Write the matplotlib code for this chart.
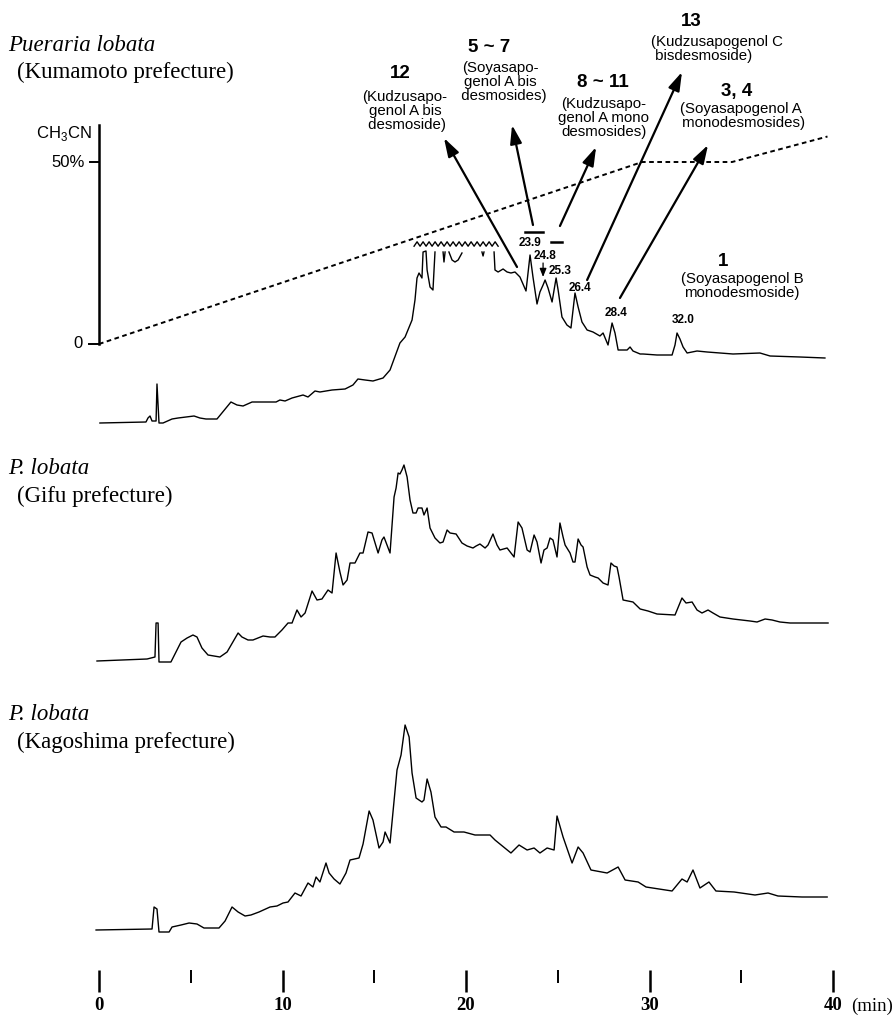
import numpy as np
import matplotlib.pyplot as plt

plt.rcParams['font.family'] = ['Liberation Sans', 'DejaVu Sans']
plt.rcParams['mathtext.fontset'] = 'custom'
plt.rcParams['mathtext.rm'] = 'Liberation Sans'

nan = np.nan

# Kumamoto chromatogram: time (min), response (off scale between the gaps)
kuma_t = [0.05, 2.56, 2.67, 2.78, 2.89, 3.11, 3.16, 3.27, 3.49, 3.98, 4.31, 5.18, 5.50,
          5.83, 6.43, 7.19, 7.52, 7.85, 8.34, 9.65, 9.86, 10.14, 10.52, 11.12, 11.39,
          11.77, 12.04, 12.70, 13.41, 13.84, 14.11, 14.50, 14.93, 15.48, 15.86, 16.02,
          16.40, 16.68, 17.06, 17.22, 17.33, 17.44, 17.60, 17.66, 17.82, 17.88, 18.04,
          18.20, 18.31, nan,
          18.75, 18.80, 18.86, nan,
          19.07, 19.24, 19.40, 19.57, 19.78, nan,
          20.87, 20.93, 20.98, nan,
          21.53, 21.58, 21.75, 22.02, 22.24, 22.45, 22.67, 22.94, 23.27, 23.49, 23.65,
          23.87, 24.03, 24.20, 24.31, 24.47, 24.69, 24.91, 25.02, 25.23, 25.50, 25.72,
          25.94, 26.11, 26.32, 26.60, 26.92, 27.30, 27.47, 27.74, 27.96, 28.12, 28.29,
          28.78, 28.94, 29.10, 29.49, 29.65, 30.41, 31.23, 31.39, 31.50, 31.66, 31.83,
          32.05, 32.59, 33.14, 34.55, 36.02, 36.57, 38.20, 39.56]
kuma_s = [0, 1, 5, 7, 2, 2, 39, 0, 0, 4, 5, 7, 5,
          4, 4, 21, 18, 17, 21, 21, 23, 22, 25, 28, 26,
          32, 31, 33, 34, 38, 44, 43, 42, 45, 53, 61,
          80, 86, 103, 123, 145, 150, 145, 171, 172, 153, 136,
          133, 171, nan,
          171, 161, 171, nan,
          171, 163, 161, 163, 170, nan,
          171, 167, 171, nan,
          171, 153, 151, 154, 151, 150, 151, 146, 132, 168, 146,
          119, 131, 138, 143, 135, 121, 145, 133, 106, 98, 95,
          130, 116, 101, 93, 91, 87, 90, 78, 100, 90, 73,
          73, 76, 72, 69, 69, 68, 68, 78, 90, 84, 76,
          70, 72, 71, 69, 70, 67, 66, 65]

gifu_t = [-0.11, 2.62, 3.05, 3.11, 3.22, 3.27, 3.92, 4.25, 4.47, 4.80, 5.12, 5.34, 5.61,
          5.94, 6.59, 6.98, 7.58, 7.79, 8.12, 8.39, 8.94, 9.32, 9.59, 9.97, 10.30, 10.52,
          10.79, 11.01, 11.23, 11.61, 11.88, 12.15, 12.48, 12.70, 12.92, 13.13, 13.30,
          13.52, 13.68, 13.95, 14.22, 14.39, 14.66, 14.88, 15.21, 15.42, 15.53, 15.86,
          16.08, 16.19, 16.30, 16.40, 16.51, 16.62, 16.79, 16.95, 17.11, 17.28, 17.39,
          17.60, 17.71, 17.88, 18.04, 18.31, 18.58, 18.75, 18.97, 19.13, 19.46, 19.78,
          20.06, 20.38, 20.55, 20.76, 21.04, 21.20, 21.47, 21.69, 21.85, 22.24, 22.62,
          22.84, 23.05, 23.33, 23.49, 23.71, 23.87, 24.09, 24.25, 24.42, 24.58, 24.74,
          24.96, 25.12, 25.29, 25.40, 25.67, 25.83, 25.94, 26.11, 26.27, 26.38, 26.60,
          26.76, 27.03, 27.20, 27.47, 27.74, 27.90, 28.07, 28.23, 28.34, 28.56, 29.10,
          29.49, 29.92, 30.41, 31.39, 31.77, 31.99, 32.32, 32.59, 32.86, 33.19, 33.46,
          33.84, 34.55, 35.48, 35.86, 36.30, 36.68, 37.11, 37.66, 39.73]
gifu_s = [0, 2, 4, 38, 38, -1, -1, 11, 19, 23, 26, 24, 13,
          6, 4, 9, 28, 24, 21, 21, 25, 24, 24, 31, 38, 38,
          51, 44, 48, 70, 61, 62, 71, 68, 108, 89, 76,
          81, 98, 98, 108, 108, 129, 128, 108, 121, 124, 108,
          164, 173, 188, 187, 191, 196, 184, 161, 148, 148, 153,
          153, 146, 153, 133, 123, 118, 119, 131, 128, 127, 118,
          115, 113, 115, 117, 113, 116, 127, 116, 111, 113, 104,
          139, 133, 111, 109, 126, 119, 98, 111, 113, 123, 121,
          104, 138, 124, 116, 108, 99, 99, 122, 116, 114, 94,
          86, 84, 83, 78, 76, 98, 95, 94, 84, 61, 59,
          52, 50, 47, 46, 63, 58, 59, 51, 48, 51, 48,
          44, 42, 40, 39, 42, 41, 39, 38, 38]

kago_t = [-0.16, 2.89, 3.00, 3.16, 3.27, 3.82, 3.98, 4.47, 4.91, 5.34, 5.72, 6.54, 6.87,
          7.25, 7.58, 7.96, 8.28, 8.72, 9.32, 9.70, 10.03, 10.30, 10.68, 11.01, 11.39,
          11.66, 11.83, 12.04, 12.37, 12.54, 12.81, 13.13, 13.46, 13.68, 14.17, 14.39,
          14.72, 14.93, 15.26, 15.48, 15.59, 15.86, 16.24, 16.46, 16.68, 16.90, 17.06,
          17.28, 17.60, 17.71, 17.88, 18.09, 18.31, 18.64, 18.91, 19.35, 19.89, 20.49,
          21.31, 21.58, 22.45, 22.89, 23.33, 23.71, 24.03, 24.42, 24.80, 24.96, 25.29,
          25.78, 26.11, 26.38, 26.81, 27.69, 28.29, 28.67, 29.38, 29.81, 31.23, 31.77,
          32.05, 32.37, 32.75, 33.24, 33.62, 34.61, 35.75, 36.46, 37.00, 38.31, 39.68]
kago_s = [0, 1, 23, 21, -2, -2, 3, 5, 7, 6, 2, 2, 9,
          23, 18, 14, 15, 18, 23, 24, 27, 28, 37, 34, 47,
          43, 53, 48, 67, 57, 51, 46, 57, 70, 72, 86,
          119, 110, 82, 88, 98, 87, 160, 175, 205, 193, 157,
          132, 128, 130, 151, 138, 113, 103, 103, 98, 98, 95,
          95, 90, 77, 85, 80, 82, 77, 82, 80, 114, 93,
          67, 83, 77, 60, 57, 63, 50, 48, 43, 39, 51,
          48, 60, 42, 48, 39, 38, 35, 37, 34, 33, 33]

# CH3CN gradient program
grad_t = [0, 29.6, 34.5, 39.7]
grad_pct = [0, 50, 50, 57]

major_ticks = [0, 10, 20, 30, 40]
minor_ticks = [5, 15, 25, 35]

# retention times printed on the Kumamoto trace
peak_labels = ['23.9', '24.8', '25.3', '26.4', '28.4', '32.0']


def main():
    fig = plt.figure(figsize=(8.93, 10.19), dpi=100)
    ax = fig.add_axes([0, 0, 1, 1])
    ax.set_xlim(-99 / 18.35, 794 / 18.35)
    ax.set_ylim(1019, 0)
    ax.axis('off')

    lw = 1.0
    ax.plot(kuma_t, 423 - np.array(kuma_s, dtype=float), color='black', lw=lw)
    ax.plot(gifu_t, 661 - np.array(gifu_s, dtype=float), color='black', lw=lw)
    ax.plot(kago_t, 930 - np.array(kago_s, dtype=float), color='black', lw=lw)

    # off-scale marker
    zz_t = np.linspace(17.17, 21.75, 29)
    zz_y = 244 + np.where(np.arange(29) % 2 == 0, 2.2, -2.2)
    ax.plot(zz_t, zz_y, color='black', lw=1.0)

    # gradient
    ax.plot(grad_t, 344 - np.array(grad_pct) * 3.64, color='black', lw=1.4,
            linestyle=(0, (2.4, 1.8)))
    ax.plot([0, 0], [125, 344], color='black', lw=1.8)
    ax.plot([-0.5, 0], [162, 162], color='black', lw=1.4)
    ax.plot([-0.55, 0], [344, 344], color='black', lw=1.4)
    ax.text(-0.38, 133, 'CH$_3$CN', ha='right', va='center', fontsize=12)
    ax.text(-0.75, 162, '50%', ha='right', va='center', fontsize=12)
    ax.text(-0.9, 344, '0', ha='right', va='center', fontsize=12)

    # sample names
    serif = 'Liberation Serif'
    names = [('Pueraria lobata', '(Kumamoto prefecture)', 45),
             ('P. lobata', '(Gifu prefecture)', 469),
             ('P. lobata', '(Kagoshima prefecture)', 715)]
    for sp, place, y in names:
        ax.text(-4.96, y, sp, family=serif, style='italic', fontsize=16.5,
                ha='left', va='center')
        ax.text(-4.47, y + 27, place, family=serif, fontsize=16.5,
                ha='left', va='center')

    # time axis
    ax.vlines(major_ticks, 970, 992, color='black', lw=1.8)
    ax.vlines(minor_ticks, 970, 983, color='black', lw=1.4)
    for t in major_ticks:
        ax.text(t, 1006, str(t), family=serif, weight='bold', fontsize=13.5,
                ha='center', va='center')
    ax.text(41.0, 1006, '(min)', family=serif, fontsize=13.5, ha='left', va='center')

    # compound annotations
    big = dict(fontsize=13.5, weight='bold', ha='center', va='center')
    small = dict(fontsize=10.8, ha='center', va='center', linespacing=1.0)
    ax.text(16.40, 73, '12', **big)
    ax.text(16.68, 111, '(Kudzusapo-\ngenol A bis\n desmoside)', **small)
    ax.text(21.25, 47, '5 ~ 7', **big)
    ax.text(21.85, 82, '(Soyasapo-\ngenol A bis\n  desmosides)', **small)
    ax.text(27.47, 82, '8 ~ 11', **big)
    ax.text(27.52, 118, '(Kudzusapo-\ngenol A mono\ndesmosides)', **small)
    ax.text(32.26, 21, '13', **big)
    ax.text(30.08, 49, '(Kudzusapogenol C\n bisdesmoside)', fontsize=10.8,
            ha='left', va='center', linespacing=1.0)
    ax.text(34.77, 91, '3, 4', **big)
    ax.text(34.99, 116, '(Soyasapogenol A\n monodesmosides)', **small)
    ax.text(34.0, 262, '1', **big)
    ax.text(35.04, 286, '(Soyasapogenol B\nmonodesmoside)', **small)

    arrow = dict(arrowstyle='-|>,head_length=0.7,head_width=0.22', color='black',
                 lw=1.6, mutation_scale=16, shrinkA=0, shrinkB=0)
    arrows = [((22.78, 267), (18.80, 138)),
              ((23.65, 225), (22.51, 125)),
              ((25.12, 226), (27.09, 147)),
              ((26.60, 280), (31.77, 72)),
              ((28.39, 298), (33.19, 145))]
    for tail, head in arrows:
        ax.annotate('', xy=head, xytext=tail, arrowprops=arrow)

    # retention time labels
    label_pos = [(23.49, 243), (24.31, 256), (25.12, 271), (26.20, 288),
                 (28.18, 313), (31.83, 320)]
    for lab, (t, y) in zip(peak_labels, label_pos):
        ax.text(t, y, lab, fontsize=8.5, weight='bold', ha='center', va='center')
    ax.plot([23.22, 24.20], [232, 232], color='black', lw=1.8)
    ax.plot([24.63, 25.23], [242, 242], color='black', lw=1.8)
    ax.annotate('', xy=(24.20, 277), xytext=(24.20, 263),
                arrowprops=dict(arrowstyle='-|>,head_length=0.5,head_width=0.2',
                                color='black', lw=0.9, mutation_scale=10,
                                shrinkA=0, shrinkB=0))

    fig.savefig('out.png', dpi=100)


if __name__ == "__main__":
    main()
